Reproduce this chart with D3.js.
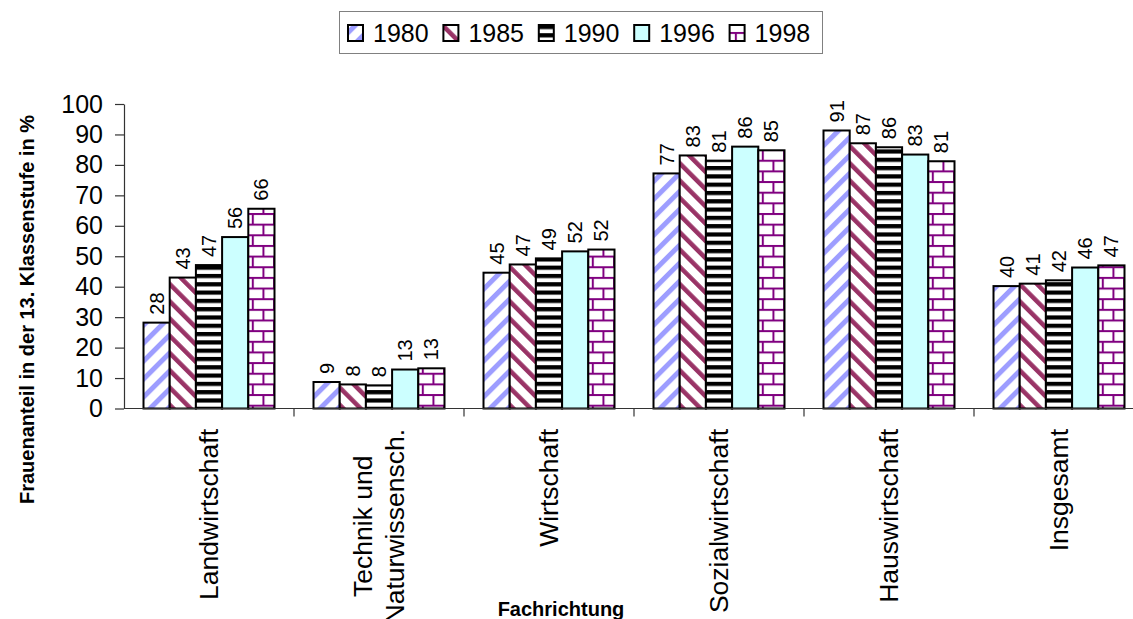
<!DOCTYPE html>
<html><head><meta charset="utf-8">
<script src="https://cdn.jsdelivr.net/npm/d3@7"></script>
<style>
body{margin:0;background:#fff;}
svg{display:block;font-family:Arial,"Liberation Sans",sans-serif;}
</style></head><body>
<svg id="chart" width="1133" height="619"></svg>
<script>
const categories = ["Landwirtschaft", "Technik und\nNaturwissensch.", "Wirtschaft", "Sozialwirtschaft", "Hauswirtschaft", "Insgesamt"];
const years = ["1980", "1985", "1990", "1996", "1998"];
const v1980 = [28.2, 8.7, 44.6, 77.2, 91.3, 40.2];
const v1985 = [43.0, 7.9, 47.3, 83.1, 87.1, 41.0];
const v1990 = [47.1, 7.6, 49.3, 81.4, 85.8, 42.1];
const v1996 = [56.3, 12.8, 51.6, 86.0, 83.4, 46.3];
const v1998 = [65.6, 13.2, 52.2, 84.8, 81.2, 47.0];
const seriesValues = [v1980, v1985, v1990, v1996, v1998];
const yTicks = [0, 10, 20, 30, 40, 50, 60, 70, 80, 90, 100];
const yTitle = "Frauenanteil in der 13. Klassenstufe in %";
const xTitle = "Fachrichtung";

const svg = d3.select("#chart");
const defs = svg.append("defs");

// patterns
function stripePattern(id, color, period, width, angle){
  const p = defs.append("pattern").attr("id", id).attr("patternUnits","userSpaceOnUse")
    .attr("width", period).attr("height", period).attr("patternTransform", `rotate(${angle})`);
  p.append("rect").attr("width", period).attr("height", period).attr("fill","#fff");
  p.append("rect").attr("x",0).attr("y",0).attr("width", width).attr("height", period).attr("fill", color);
}
stripePattern("p1980", "#9d9dff", 12.7, 5, 45);
stripePattern("p1985", "#993366", 12.2, 4.5, -45);
(function(){
  const p = defs.append("pattern").attr("id","p1990").attr("patternUnits","userSpaceOnUse")
    .attr("width", 8).attr("height", 8.3);
  p.append("rect").attr("width",8).attr("height",8.3).attr("fill","#fff");
  p.append("rect").attr("y",0).attr("width",8).attr("height",4.2).attr("fill","#000");
})();
(function(){
  const p = defs.append("pattern").attr("id","p1996").attr("patternUnits","userSpaceOnUse")
    .attr("width", 8).attr("height", 8);
  p.append("rect").attr("width",8).attr("height",8).attr("fill","#ccffff");
})();
(function(){
  const s = 21.3, h = s/2, c = "#800080";
  const p = defs.append("pattern").attr("id","p1998").attr("patternUnits","userSpaceOnUse")
    .attr("width", s).attr("height", s);
  p.append("rect").attr("width",s).attr("height",s).attr("fill","#fff");
  p.append("rect").attr("x",0).attr("y",0).attr("width",s).attr("height",2).attr("fill",c);
  p.append("rect").attr("x",0).attr("y",h).attr("width",s).attr("height",2).attr("fill",c);
  p.append("rect").attr("x",0).attr("y",0).attr("width",2).attr("height",h).attr("fill",c);
  p.append("rect").attr("x",h).attr("y",h).attr("width",2).attr("height",h).attr("fill",c);
})();
const fills = years.map(y => `url(#p${y})`);

// scales
const plotLeft = 124, plotRight = 1144, plotTop = 104, plotBottom = 408.5;
const x0 = d3.scaleBand().domain(categories).range([plotLeft, plotRight]).padding(0);
const x1 = d3.scaleBand().domain(years).range([19.5, x0.bandwidth() - 19.5]).padding(0);
const y = d3.scaleLinear().domain([0, 100]).range([plotBottom, plotTop]);

// bars
const groups = svg.append("g").selectAll("g").data(categories).join("g")
  .attr("transform", c => `translate(${x0(c)},0)`);
groups.each(function(c, ci){
  const g = d3.select(this);
  years.forEach((yr, si) => {
    const v = seriesValues[si][ci];
    g.append("rect")
      .attr("x", x1(yr)).attr("y", y(v))
      .attr("width", x1.bandwidth()).attr("height", y(0) - y(v))
      .attr("fill", fills[si]).attr("stroke", "#000").attr("stroke-width", 2);
    const cx = x1(yr) + x1.bandwidth()/2, ty = y(v) - 8;
    g.append("text")
      .attr("transform", `translate(${cx},${ty}) rotate(-90)`)
      .attr("text-anchor","start").attr("dominant-baseline","central")
      .attr("font-size", 20).attr("fill","#000")
      .text(Math.round(v));
  });
});

// y axis
const yAxis = svg.append("g").attr("transform", `translate(${plotLeft},0)`)
  .call(d3.axisLeft(y).tickValues(yTicks).tickSize(9).tickPadding(12).tickSizeOuter(0));
yAxis.select(".domain").attr("stroke","#333").attr("stroke-width",1.2);
yAxis.selectAll(".tick line").attr("stroke","#333").attr("stroke-width",1.2);
yAxis.selectAll(".tick text").attr("font-size",25).attr("font-family","Arial, 'Liberation Sans', sans-serif").attr("fill","#000");

// x axis line and boundary ticks
const xAxisG = svg.append("g");
xAxisG.append("line").attr("x1", plotLeft).attr("x2", plotRight).attr("y1", plotBottom).attr("y2", plotBottom)
  .attr("stroke","#333").attr("stroke-width",1.2);
xAxisG.selectAll("line.tk").data(categories.slice(1).concat(["__end"])).join("line").attr("class","tk")
  .attr("x1", c => c === "__end" ? plotRight : x0(c)).attr("x2", c => c === "__end" ? plotRight : x0(c))
  .attr("y1", plotBottom).attr("y2", plotBottom + 8)
  .attr("stroke","#333").attr("stroke-width",1.2);

// category labels
categories.forEach(c => {
  const lines = c.split("\n");
  const cx = x0(c) + x0.bandwidth()/2;
  const g = svg.append("g");
  const t = g.append("text").attr("font-size", 26.5).attr("fill","#000").attr("text-anchor","middle");
  const lineGap = 31.5;
  lines.forEach((ln, i) => {
    t.append("tspan").attr("x", 0).attr("y", (i - (lines.length-1)/2) * lineGap)
      .attr("dominant-baseline","central").text(ln);
  });
  let maxLen = 0;
  t.selectAll("tspan").each(function(){ maxLen = Math.max(maxLen, this.getComputedTextLength()); });
  g.attr("transform", `translate(${cx},${429 + maxLen/2}) rotate(-90)`);
});

// axis titles
svg.append("text").attr("x", 561).attr("y", 616).attr("text-anchor","middle")
  .attr("font-size", 20).attr("font-weight","bold").attr("fill","#000").text(xTitle);
svg.append("text").attr("transform", `translate(33.5,115) rotate(-90)`).attr("text-anchor","end")
  .attr("font-size", 20).attr("font-weight","bold").attr("fill","#000").text(yTitle);

// legend
const legend = svg.append("g");
legend.append("rect").attr("x", 339.5).attr("y", 11.5).attr("width", 483).attr("height", 42)
  .attr("fill","#fff").attr("stroke","#808080").attr("stroke-width",1);
years.forEach((yr, i) => {
  const lx = 348 + i * 95.4;
  legend.append("rect").attr("x", lx).attr("y", 25).attr("width", 15).attr("height", 16)
    .attr("fill", fills[i]).attr("stroke","#000").attr("stroke-width",2);
  legend.append("text").attr("x", lx + 25).attr("y", 42).attr("font-size", 25).attr("fill","#000").text(yr);
});
</script>
</body></html>
